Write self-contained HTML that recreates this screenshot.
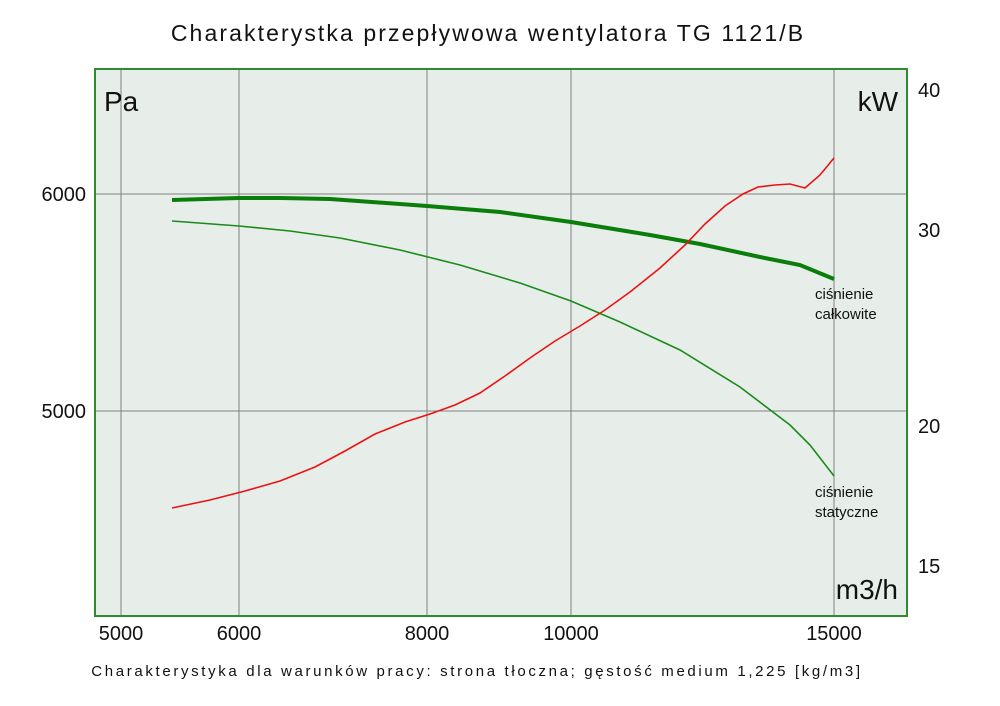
<!DOCTYPE html>
<html><head><meta charset="utf-8"><style>
html,body{margin:0;padding:0;background:#fff;}
svg{display:block;font-family:"Liberation Sans","DejaVu Sans",sans-serif;}
</style></head><body>
<svg width="1000" height="706" viewBox="0 0 1000 706" xmlns="http://www.w3.org/2000/svg">
<text x="488" y="41" font-size="23" text-anchor="middle" fill="#111" letter-spacing="2.1">Charakterystka przepływowa wentylatora TG 1121/B</text>
<rect x="95" y="69" width="812" height="547" fill="#e7eeea" stroke="#2e8b2e" stroke-width="2"/>
<g stroke="#808080" stroke-width="1">
<line x1="121" y1="70" x2="121" y2="615"/>
<line x1="239" y1="70" x2="239" y2="615"/>
<line x1="427" y1="70" x2="427" y2="615"/>
<line x1="571" y1="70" x2="571" y2="615"/>
<line x1="834" y1="70" x2="834" y2="615"/>
<line x1="96" y1="194" x2="906" y2="194"/>
<line x1="96" y1="411" x2="906" y2="411"/>
</g>
<text x="104" y="111" font-size="28" fill="#111">Pa</text>
<text x="898" y="111" font-size="28" fill="#111" text-anchor="end">kW</text>
<text x="898" y="599" font-size="28" fill="#111" text-anchor="end">m3/h</text>
<g font-size="20" fill="#111">
<text x="86" y="201" text-anchor="end">6000</text>
<text x="86" y="418" text-anchor="end">5000</text>
<text x="918" y="97">40</text>
<text x="918" y="237">30</text>
<text x="918" y="433">20</text>
<text x="918" y="573">15</text>
<g text-anchor="middle">
<text x="121" y="640">5000</text>
<text x="239" y="640">6000</text>
<text x="427" y="640">8000</text>
<text x="571" y="640">10000</text>
<text x="834" y="640">15000</text>
</g></g>
<polyline fill="none" stroke="#0a7d0a" stroke-width="4" points="172,200 239,198 280,198 330,199 427,206 500,212 571,222 650,235 700,244 760,257 800,265 834,279"/>
<polyline fill="none" stroke="#1a8a1a" stroke-width="1.6" points="172,221 239,226 290,231 340,238 400,250 460,265 520,283 571,301 620,322 680,350 740,387 790,425 810,445 834,476"/>
<polyline fill="none" stroke="#ee1111" stroke-width="1.6" points="172,508 210,500 245,491 280,481 315,467 345,451 375,434 405,422 430,414 455,405 480,393 505,376 530,358 555,341 580,326 605,310 630,292 660,268 685,245 705,224 725,206 743,194 758,187 775,185 790,184 805,188 820,175 834,158"/>
<g font-size="15" fill="#111">
<text x="815" y="299">ciśnienie</text>
<text x="815" y="319">całkowite</text>
<text x="815" y="497">ciśnienie</text>
<text x="815" y="517">statyczne</text>
</g>
<text x="477" y="676" font-size="15" fill="#111" text-anchor="middle" letter-spacing="2.65">Charakterystyka dla warunków pracy: strona tłoczna; gęstość medium 1,225 [kg/m3]</text>
</svg>
</body></html>
